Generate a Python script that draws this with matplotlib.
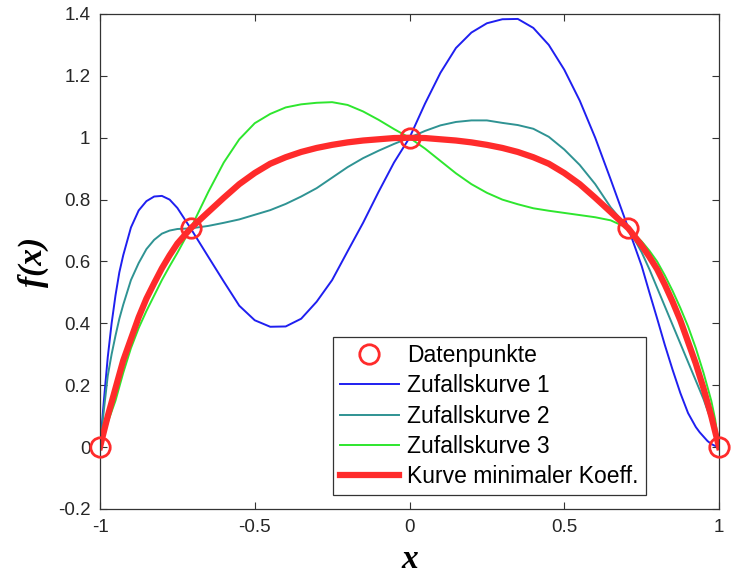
import matplotlib.pyplot as plt
from matplotlib.ticker import FuncFormatter

plt.rcParams['font.family'] = ['Liberation Sans', 'DejaVu Sans']
plt.rcParams['axes.unicode_minus'] = False

x_grid = [-1, -0.9875, -0.975, -0.9625, -0.95, -0.9375, -0.925, -0.9, -0.875,
          -0.85, -0.825, -0.8, -0.775, -0.75, -0.7071,
          -0.65, -0.6, -0.55, -0.5, -0.45, -0.4, -0.35, -0.3, -0.25, -0.2,
          -0.15, -0.1, -0.05, 0, 0.05, 0.1, 0.15, 0.2, 0.25, 0.3, 0.35, 0.4,
          0.45, 0.5, 0.55, 0.6, 0.65,
          0.7071, 0.75, 0.775, 0.8, 0.825, 0.85, 0.875, 0.9, 0.925, 0.9375,
          0.95, 0.9625, 0.975, 0.9875, 1]

kurve1 = [0, 0.15, 0.29, 0.40, 0.49, 0.565, 0.62, 0.71, 0.765,
          0.795, 0.81, 0.812, 0.80, 0.773, 0.707,
          0.615, 0.535, 0.457, 0.41, 0.389, 0.39, 0.415, 0.47, 0.54, 0.633,
          0.725, 0.825, 0.92, 1.0, 1.11, 1.21, 1.29, 1.34, 1.37, 1.383, 1.384, 1.355,
          1.30, 1.22, 1.12, 1.00, 0.865,
          0.707, 0.586, 0.50, 0.416, 0.33, 0.25, 0.175, 0.11, 0.065, 0.048,
          0.034, 0.02, 0.01, 0.004, 0]

kurve2 = [0, 0.12, 0.23, 0.30, 0.36, 0.415, 0.46, 0.54, 0.595,
          0.64, 0.67, 0.69, 0.70, 0.705, 0.707,
          0.715, 0.725, 0.736, 0.751, 0.766, 0.786, 0.81, 0.837, 0.871, 0.905,
          0.934, 0.958, 0.98, 1.0, 1.022, 1.04, 1.051, 1.056, 1.056, 1.048, 1.041, 1.029,
          1.003, 0.962, 0.912, 0.85, 0.775,
          0.707, 0.63, 0.575, 0.515, 0.455, 0.395, 0.335, 0.275, 0.215, 0.185,
          0.155, 0.12, 0.085, 0.045, 0]

kurve3 = [0, 0.04, 0.08, 0.115, 0.15, 0.195, 0.24, 0.32, 0.385,
          0.44, 0.49, 0.54, 0.585, 0.628, 0.707,
          0.825, 0.92, 0.995, 1.047, 1.077, 1.098, 1.108, 1.113, 1.115, 1.106,
          1.085, 1.058, 1.028, 1.0, 0.965, 0.925, 0.885, 0.85, 0.822, 0.80, 0.785, 0.772,
          0.764, 0.757, 0.75, 0.743, 0.733,
          0.707, 0.665, 0.635, 0.60, 0.555, 0.505, 0.45, 0.39, 0.32, 0.28,
          0.24, 0.195, 0.15, 0.09, 0]

kurve_min = [0, 0.05, 0.10, 0.145, 0.19, 0.235, 0.28, 0.35, 0.42,
             0.48, 0.53, 0.578, 0.62, 0.658, 0.707,
             0.76, 0.806, 0.85, 0.886, 0.916, 0.937, 0.954, 0.967, 0.977, 0.985,
             0.991, 0.995, 0.999, 1.0, 0.999, 0.995, 0.991, 0.985, 0.977, 0.967, 0.954, 0.937,
             0.916, 0.886, 0.85, 0.806, 0.76,
             0.707, 0.652, 0.615, 0.575, 0.525, 0.47, 0.41, 0.34, 0.27, 0.23,
             0.19, 0.145, 0.10, 0.05, 0]

punkte_x = [-1, -0.7071, 0, 0.7071, 1]
punkte_y = [0, 0.7071, 1, 0.7071, 0]

x_ticks = [-1, -0.5, 0, 0.5, 1]
y_ticks = [-0.2, 0, 0.2, 0.4, 0.6, 0.8, 1, 1.2, 1.4]

fig = plt.figure(figsize=(7.31, 5.78), dpi=100)
ax = fig.add_axes([0.1368, 0.1194, 0.8468, 0.8564])

ax.plot(punkte_x, punkte_y, 'o', ms=14, mfc='none', mec='#ff2b2b', mew=2,
        clip_on=False, label='Datenpunkte', zorder=5)
ax.plot(x_grid, kurve1, color='#1f1ff0', lw=1.4, label='Zufallskurve 1')
ax.plot(x_grid, kurve2, color='#2f9393', lw=1.4, label='Zufallskurve 2')
ax.plot(x_grid, kurve3, color='#2ee62e', lw=1.4, label='Zufallskurve 3')
ax.plot(x_grid, kurve_min, color='#ff2b2b', lw=4.5, label='Kurve minimaler Koeff.')

ax.set_xlim(-1, 1)
ax.set_ylim(-0.2, 1.4)
ax.set_xticks(x_ticks)
ax.set_yticks(y_ticks)
fmt = FuncFormatter(lambda v, p: '%g' % round(v, 2))
ax.xaxis.set_major_formatter(fmt)
ax.yaxis.set_major_formatter(fmt)
ax.tick_params(direction='in', top=True, right=True, length=5, labelsize=13.5,
               color='#333333', labelcolor='#262626', pad=7)
for s in ax.spines.values():
    s.set_color('#333333')
    s.set_linewidth(0.9)

ax.set_xlabel('x', family='Liberation Serif', style='italic', weight='bold',
              fontsize=24, labelpad=6)
ax.set_ylabel('f(x)', family='Liberation Serif', style='italic', weight='bold',
              fontsize=24, labelpad=6)

leg = ax.legend(loc='lower left', bbox_to_anchor=(0.376, 0.028), fontsize=16.5,
                fancybox=False, edgecolor='#333333', framealpha=1,
                handlelength=2.6, handletextpad=0.35, labelspacing=0.32,
                borderpad=0.3, borderaxespad=0)
leg.get_frame().set_linewidth(0.9)

fig.savefig('out.png', dpi=100)
